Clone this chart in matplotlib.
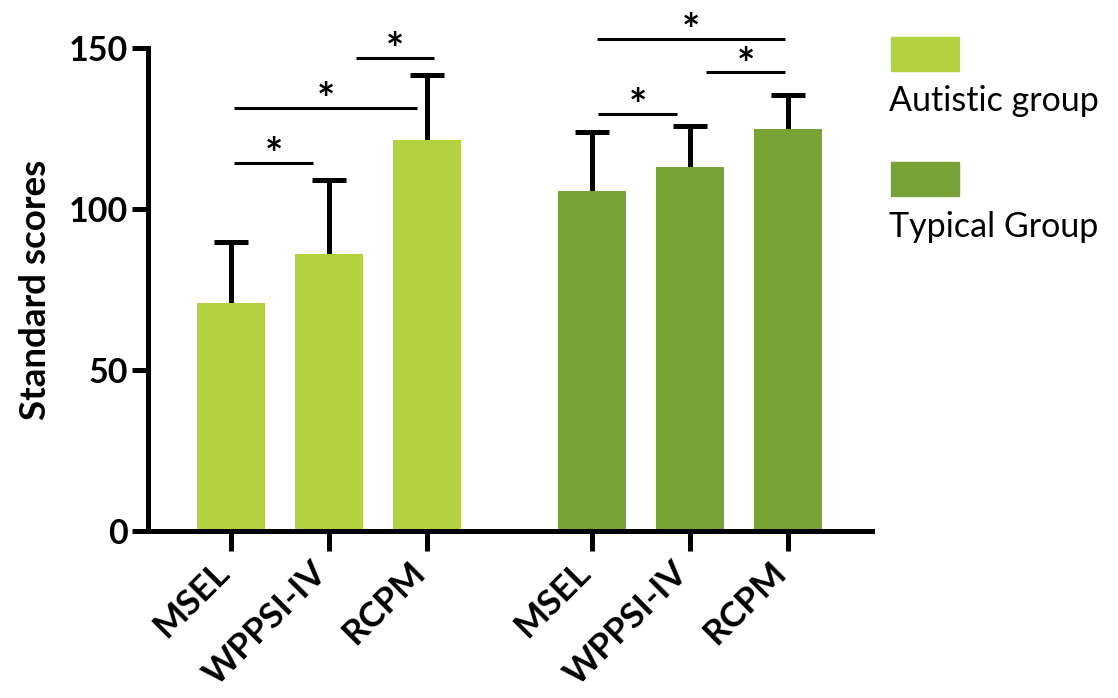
import matplotlib
matplotlib.use('Agg')
import matplotlib.pyplot as plt
from matplotlib.patches import Rectangle
from matplotlib.transforms import ScaledTranslation
import numpy as np

plt.rcParams['font.family'] = ['Lato', 'DejaVu Sans']

# data
tests = ['MSEL', 'WPPSI-IV', 'RCPM']
groups = ['Autistic group', 'Typical Group']
autistic_mean = [70.8, 86.0, 121.4]
autistic_sd = [19.0, 23.0, 20.3]
typical_mean = [105.6, 113.0, 124.8]
typical_sd = [18.4, 12.8, 10.6]
colors = ['#b2d33f', '#78a136']

# significance bars: (bar i, bar j, height, left inset, right inset)
sig_autistic = [(0, 1, 114.3, 0.03, 0.16), (0, 2, 131.4, 0.03, 0.10), (1, 2, 146.9, 0.28, -0.07)]
sig_typical = [(0, 1, 129.5, 0.06, 0.13), (1, 2, 142.5, 0.16, 0.03), (0, 2, 152.8, 0.05, 0.03)]

fig = plt.figure(figsize=(11.18, 6.98), dpi=100)
ax = fig.add_axes([0.1324, 0.2393, 0.6476, 0.692])

gap = 1.684
x_aut = np.arange(len(tests)) + 1.0
x_typ = x_aut + 2 + gap
width = 0.69

for xs, means, sds, col in [(x_aut, autistic_mean, autistic_sd, colors[0]),
                            (x_typ, typical_mean, typical_sd, colors[1])]:
    ax.bar(xs, means, width=width, color=col, zorder=2)
    eb = ax.errorbar(xs, means, yerr=[np.zeros(len(sds)), sds], fmt='none',
                     ecolor='black', elinewidth=3.6, capsize=12, capthick=3.6, zorder=1)
    eb[1][0].set_visible(False)  # no cap at the bar top

for xs, sigs in [(x_aut, sig_autistic), (x_typ, sig_typical)]:
    for i, j, h, li, ri in sigs:
        x0, x1 = xs[i] + li, xs[j] - ri
        ax.plot([x0, x1], [h, h], color='black', lw=2.2, clip_on=False, solid_capstyle='butt')
        ax.text((x0 + x1) / 2, h - 2.0, '*', ha='center', va='baseline',
                fontsize=31, fontweight='bold', clip_on=False)

ax.set_xlim(x_aut[0] - 0.847, x_typ[-1] + 0.857)
ax.set_ylim(0, 150)
ax.set_yticks([0, 50, 100, 150])
ax.set_xticks(np.concatenate([x_aut, x_typ]))
ax.set_xticklabels(tests + tests, rotation=45, ha='right', va='baseline',
                   rotation_mode='anchor', fontsize=25.5, fontweight='bold')
shift = ScaledTranslation(6 / 100, 0, fig.dpi_scale_trans)
for lab in ax.get_xticklabels():
    lab.set_transform(lab.get_transform() + shift)
for lab in ax.get_yticklabels():
    lab.set_fontsize(24.5)
    lab.set_fontweight('bold')

for s in ['top', 'right']:
    ax.spines[s].set_visible(False)
for s in ['left', 'bottom']:
    ax.spines[s].set_linewidth(3.6)
ax.tick_params(axis='y', length=11.5, width=3.6, pad=3)
ax.tick_params(axis='x', length=14.4, width=3.6, pad=17)
ax.set_ylabel('Standard scores', fontsize=26.5, fontweight='bold', labelpad=12)

# legend drawn in figure space
for k, (name, col) in enumerate(zip(groups, colors)):
    y_top = 1 - (37 + k * 125) / 698
    fig.add_artist(Rectangle((891 / 1118, y_top - 34 / 698), 68 / 1118, 34 / 698,
                             transform=fig.transFigure, color=col))
    fig.text(889 / 1118, 1 - (111 + k * 126) / 698, name, fontsize=24.5,
             ha='left', va='baseline')

fig.savefig('out.png', dpi=100)
